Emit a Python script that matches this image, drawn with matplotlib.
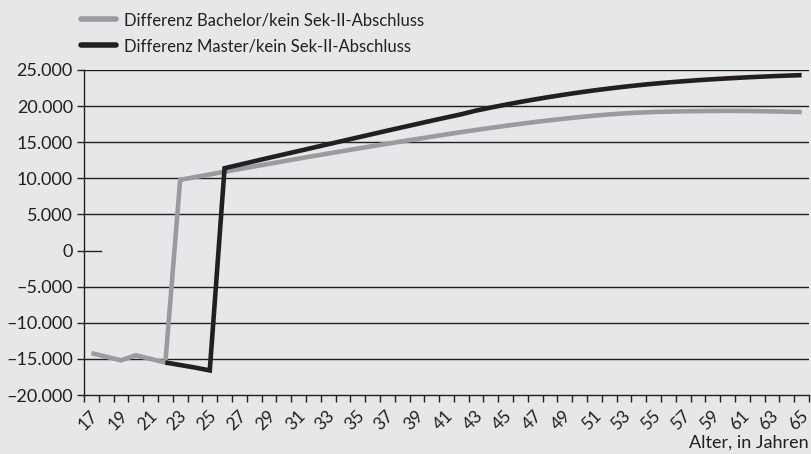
import numpy as np
import matplotlib
matplotlib.use("Agg")
import matplotlib.pyplot as plt
from matplotlib.transforms import ScaledTranslation

# Alter 17 bis 65
ages = list(range(17, 66))

bachelor = [-14200, -14700, -15200, -14500, -15000, -15500,
            9800, 10170, 10540, 10910, 11280, 11650, 12010, 12370, 12730,
            13080, 13430, 13780, 14120, 14460, 14790, 15120, 15440,
            15770, 16090, 16400, 16700, 16990, 17270, 17540, 17800,
            18040, 18270, 18480, 18680, 18850, 18990, 19100, 19180,
            19240, 19280, 19310, 19330, 19340, 19330, 19310, 19270,
            19230, 19180]

# Master: 17-21 deckungsgleich mit Bachelor (dort von der grauen Linie verdeckt)
master = [np.nan, np.nan, np.nan, np.nan, np.nan, -15500,
          -15850, -16200, -16600, 11400, 11880, 12360, 12840, 13310,
          13780, 14250, 14720, 15190, 15660, 16130, 16600, 17060,
          17520, 17980, 18430, 18870, 19380, 19800, 20200, 20580,
          20940, 21280, 21600, 21900, 22180, 22440, 22680, 22900,
          23100, 23280, 23440, 23590, 23720, 23840, 23950, 24050,
          24140, 24220, 24290]

y_ticks = [25000, 20000, 15000, 10000, 5000, 0, -5000, -10000, -15000, -20000]
y_labels = ["25.000", "20.000", "15.000", "10.000", "5.000", "0",
            "\u20135.000", "\u201310.000", "\u201315.000", "\u201320.000"]
x_labels = [str(a) for a in ages if a % 2 == 1]

label_bachelor = "Differenz Bachelor/kein Sek-II-Abschluss"
label_master = "Differenz Master/kein Sek-II-Abschluss"
x_title = "Alter, in Jahren"

BG = "#e6e7e8"
DARK = "#231f20"
GREY = "#9a9b9e"

plt.rcParams['font.family'] = ['Lato', 'DejaVu Sans']

fig = plt.figure(figsize=(8.11, 4.54), dpi=100, facecolor=BG)
ax = fig.add_axes([84 / 811, 1 - 395 / 454, 725 / 811, 325 / 454])
ax.set_facecolor(BG)

pos = np.arange(len(ages))

# Gitterlinien (bei 0 nur ein kurzer Strich)
for t in y_ticks:
    if t == 0:
        ax.axhline(t, xmin=0, xmax=0.024, color=DARK, lw=1.0, zorder=1)
    elif t != -20000:
        ax.axhline(t, color=DARK, lw=1.0, zorder=1)

ax.plot(pos, bachelor, color=GREY, lw=3.3, solid_capstyle='butt',
        solid_joinstyle='miter', label=label_bachelor, zorder=3)
ax.plot(pos, master, color=DARK, lw=3.3, solid_capstyle='butt',
        solid_joinstyle='miter', label=label_master, zorder=4)

ax.set_xlim(-0.5, len(ages) - 0.5)
ax.set_ylim(-20000, 25000)

ax.set_yticks(y_ticks)
ax.set_yticklabels(y_labels, fontsize=13, color=DARK)
ax.tick_params(axis='y', direction='out', length=5, width=1, color=DARK, pad=3)

odd_pos = [p for p, a in zip(pos, ages) if a % 2 == 1]
ax.set_xticks(odd_pos)
ax.set_xticklabels(x_labels, fontsize=12.5, color=DARK, rotation=45, ha='center')
ax.set_xticks(np.arange(-0.5, len(ages), 1.0), minor=True)
ax.tick_params(axis='x', which='major', length=0, pad=9)
ax.tick_params(axis='x', which='minor', direction='out', length=5, width=1, color=DARK)
shift = ScaledTranslation(-3 / 100, 0, fig.dpi_scale_trans)
for lab in ax.get_xticklabels():
    lab.set_transform(lab.get_transform() + shift)

for side in ['top', 'right']:
    ax.spines[side].set_visible(False)
for side in ['left', 'bottom']:
    ax.spines[side].set_color(DARK)
    ax.spines[side].set_linewidth(1.0)

leg = fig.legend(handles=[ax.lines[-2], ax.lines[-1]], loc='upper left',
                 bbox_to_anchor=(81 / 811, 1 - 12 / 454), frameon=False,
                 fontsize=12, handlelength=2.1, handletextpad=0.45,
                 labelspacing=0.62, borderpad=0, borderaxespad=0)
for line in leg.get_lines():
    line.set_solid_capstyle('round')
    line.set_linewidth(4)
for txt in leg.get_texts():
    txt.set_color(DARK)

fig.text(809 / 811, 1 - 443 / 454, x_title, ha='right', va='center',
         fontsize=13, color=DARK)

fig.savefig("out.png", dpi=100, facecolor=BG)
